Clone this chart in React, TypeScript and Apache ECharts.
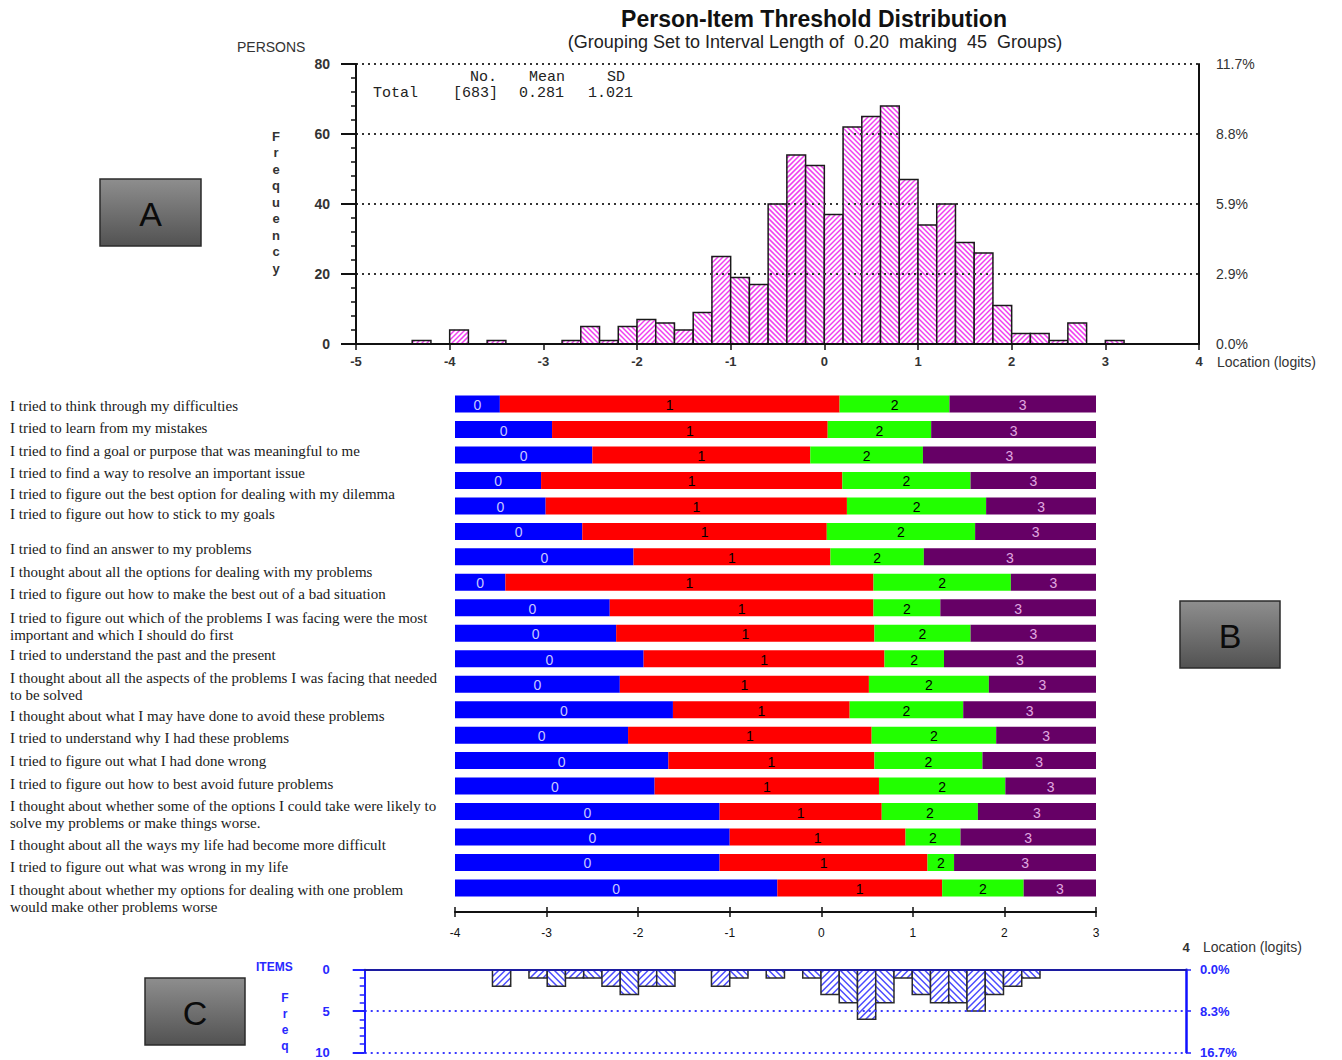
import React, { useEffect, useRef } from "react";
import * as echarts from "echarts";

// ---------- DATA ----------
const BIN_WIDTH = 0.2;
const HIST_MIN = -5;
const HIST_MAX = 4;
// 45 groups from -5 to 4, width 0.2
const PERSON_FREQ = [
  0, 0, 0, 1, 0, 4, 0, 1, 0, 0,
  0, 1, 5, 1, 5, 7, 6, 4, 9, 25,
  19, 17, 40, 54, 51, 37, 62, 65, 68, 47,
  34, 40, 29, 26, 11, 3, 3, 1, 6, 0,
  1, 0, 0, 0, 0,
];
const ITEM_FREQ = [
  0, 0, 0, 0, 0, 0, 0, 2, 0, 1,
  2, 1, 1, 2, 3, 2, 2, 0, 0, 2,
  1, 0, 1, 0, 1, 3, 4, 6, 4, 1,
  3, 4, 4, 5, 3, 2, 1, 0, 0, 0,
  0, 0, 0, 0, 0,
];
const PERSON_Y_TICKS = [0, 80, 20];
const ITEM_Y_TICKS = [0, 10, 5];
const STAT_HEADERS = ["No.", "Mean", "SD"];
const STAT_ROW = ["Total", "[683]", "0.281", "1.021"];

const ITEMS = [
  "I tried to think through my difficulties",
  "I tried to learn from my mistakes",
  "I tried to find a goal or purpose that was meaningful to me",
  "I tried to find a way to resolve an important issue",
  "I tried to figure out the best option for dealing with my dilemma",
  "I tried to figure out how to stick to my goals",
  "I tried to find an answer to my problems",
  "I thought about all the options for dealing with my problems",
  "I tried to figure out how to make the best out of a bad situation",
  "I tried to figure out which of the problems I was facing were the most\nimportant and which I should do first",
  "I tried to understand the past and the present",
  "I thought about all the aspects of the problems I was facing that needed\nto be solved",
  "I thought about what I may have done to avoid these problems",
  "I tried to understand why I had these problems",
  "I tried to figure out what I had done wrong",
  "I tried to figure out how to best avoid future problems",
  "I thought about whether some of the options I could take were likely to\nsolve my problems or make things worse.",
  "I thought about all the ways my life had become more difficult",
  "I tried to figure out what was wrong in my life",
  "I thought about whether my options for dealing with one problem\nwould make other problems worse",
];
const THRESHOLD_1 = [-3.51, -2.94, -2.5, -3.06, -3.01, -2.61, -2.05, -3.45, -2.31, -2.24, -1.94, -2.2, -1.62, -2.11, -1.67, -1.82, -1.11, -1.0, -1.11, -0.48];
const THRESHOLD_2 = [0.2, 0.07, -0.12, 0.23, 0.28, 0.06, 0.1, 0.57, 0.57, 0.58, 0.69, 0.52, 0.31, 0.55, 0.58, 0.63, 0.66, 0.92, 1.16, 1.32];
const THRESHOLD_3 = [1.4, 1.2, 1.11, 1.63, 1.8, 1.68, 1.12, 2.07, 1.3, 1.63, 1.34, 1.83, 1.55, 1.91, 1.76, 2.01, 1.71, 1.52, 1.45, 2.21];
const ITEM_AXIS = [-4, 3];
const CATEGORY_LABELS = ["0", "1", "2", "3"];

// ---------- LAYOUT / STYLE ----------
const SANS = "'Liberation Sans', Arial, sans-serif";
const SERIF = "'Liberation Serif', 'Times New Roman', serif";
const MONO = "'Liberation Mono', 'Courier New', monospace";
const LABEL_Y = [406, 428, 451, 473, 494, 514, 549, 572, 594, 618, 655, 678, 716, 738, 761, 784, 806, 845, 867, 890];
const SEG_FILL = ["#0000ff", "#ff0000", "#22ff00", "#660066"];
const SEG_TEXT = ["#c8c8ff", "#000000", "#000000", "#e0a8e0"];

function hatch(x0: number, y0: number, x1: number, y1: number, dir: string, step: number) {
  const out: number[][] = [];
  if (dir === "/") {
    const cs = Math.ceil((x0 + y0) / step) * step;
    for (let c = cs; c <= x1 + y1; c += step) {
      const ya = Math.max(y0, c - x1);
      const yb = Math.min(y1, c - x0);
      if (yb > ya) out.push([c - ya, ya, c - yb, yb]);
    }
  } else {
    const cs = Math.ceil((x0 - y1) / step) * step;
    for (let c = cs; c <= x1 - y0; c += step) {
      const ya = Math.max(y0, x0 - c);
      const yb = Math.min(y1, x1 - c);
      if (yb > ya) out.push([c + ya, ya, c + yb, yb]);
    }
  }
  return out;
}

function histRender(hatchColor: string, step: number, lw: number, stroke: string) {
  return (params: any, api: any) => {
    const start = api.value(0);
    const cnt = api.value(1);
    if (!cnt) return { type: "group", children: [] };
    const a = api.coord([start, 0]);
    const b = api.coord([start + BIN_WIDTH, cnt]);
    const x0 = Math.min(a[0], b[0]);
    const x1 = Math.max(a[0], b[0]);
    const y0 = Math.min(a[1], b[1]);
    const y1 = Math.max(a[1], b[1]);
    const dir = params.dataIndex % 2 === 1 ? "/" : "\\";
    const segs = hatch(x0, y0, x1, y1, dir, step);
    return {
      type: "group",
      children: [
        { type: "rect", shape: { x: x0, y: y0, width: x1 - x0, height: y1 - y0 }, style: { fill: "#ffffff" } },
        ...segs.map((s) => ({
          type: "line",
          shape: { x1: s[0], y1: s[1], x2: s[2], y2: s[3] },
          style: { stroke: hatchColor, lineWidth: lw },
        })),
        {
          type: "rect",
          shape: { x: x0, y: y0, width: x1 - x0, height: y1 - y0 },
          style: { fill: "none", stroke, lineWidth: 1.5 },
        },
      ],
    };
  };
}

function itemBarRender(params: any, api: any) {
  const row = api.value(0);
  const cuts = [ITEM_AXIS[0], api.value(1), api.value(2), api.value(3), ITEM_AXIS[1]];
  const h = 17;
  const children: any[] = [];
  for (let s = 0; s < 4; s++) {
    const a = api.coord([cuts[s], row]);
    const b = api.coord([cuts[s + 1], row]);
    children.push({
      type: "rect",
      shape: { x: a[0], y: a[1] - h / 2, width: b[0] - a[0], height: h },
      style: { fill: SEG_FILL[s] },
    });
  }
  for (let s = 0; s < 4; s++) {
    const a = api.coord([cuts[s], row]);
    const b = api.coord([cuts[s + 1], row]);
    children.push({
      type: "text",
      x: (a[0] + b[0]) / 2,
      y: a[1] + 1,
      style: {
        text: CATEGORY_LABELS[s],
        fill: SEG_TEXT[s],
        font: `14px ${SANS}`,
        align: "center",
        verticalAlign: "middle",
      },
    });
  }
  return { type: "group", children };
}

function txt(text: string, x: number, y: number, font: string, fill = "#222", align = "left", va = "middle", extra: any = {}) {
  return { type: "text", x, y, style: { text, font, fill, align, verticalAlign: va, ...extra } };
}

function box(letter: string, x: number, y: number, w: number, h: number) {
  return {
    type: "group",
    children: [
      {
        type: "rect",
        shape: { x, y, width: w, height: h },
        style: {
          fill: new echarts.graphic.LinearGradient(0, 0, 0, 1, [
            { offset: 0, color: "#8e8e8e" },
            { offset: 1, color: "#525252" },
          ]),
          stroke: "#2b2b2b",
          lineWidth: 1.5,
        },
      },
      txt(letter, x + w / 2, y + h / 2 + 1, `34px ${SANS}`, "#0b0b0b", "center"),
    ],
  };
}

function buildOption() {
  const personTotal = PERSON_FREQ.reduce((s, v) => s + v, 0);
  const itemTotal = ITEMS.length * 3;
  const personData = PERSON_FREQ.map((c, i) => [HIST_MIN + i * BIN_WIDTH, c]);
  const itemHistData = ITEM_FREQ.map((c, i) => [HIST_MIN + i * BIN_WIDTH, c]);
  const barData = ITEMS.map((_, i) => [i, THRESHOLD_1[i], THRESHOLD_2[i], THRESHOLD_3[i]]);

  const graphic: any[] = [
    txt("Person-Item Threshold Distribution", 814, 19, `bold 23px ${SANS}`, "#111", "center"),
    txt("(Grouping Set to Interval Length of  0.20  making  45  Groups)", 815, 42, `18px ${SANS}`, "#222", "center"),
    txt("PERSONS", 237, 47, `14px ${SANS}`, "#333"),
    txt("F\nr\ne\nq\nu\ne\nn\nc\ny", 276, 202, `bold 13px ${SANS}`, "#333", "center", "middle", { lineHeight: 16.5 }),
    txt(STAT_HEADERS[0], 470, 77, `15px ${MONO}`, "#222"),
    txt(STAT_HEADERS[1], 529, 77, `15px ${MONO}`, "#222"),
    txt(STAT_HEADERS[2], 607, 77, `15px ${MONO}`, "#222"),
    txt(STAT_ROW[0], 373, 93, `15px ${MONO}`, "#222"),
    txt(STAT_ROW[1], 453, 93, `15px ${MONO}`, "#222"),
    txt(STAT_ROW[2], 519, 93, `15px ${MONO}`, "#222"),
    txt(STAT_ROW[3], 588, 93, `15px ${MONO}`, "#222"),
    txt("Location (logits)", 1217, 362, `14px ${SANS}`, "#333"),
    txt("Location (logits)", 1203, 947, `14px ${SANS}`, "#333"),
    txt("ITEMS", 256, 967, `bold 12px ${SANS}`, "#2828ff"),
    txt("F\nr\ne\nq", 285, 1022, `bold 12px ${SANS}`, "#2828ff", "center", "middle", { lineHeight: 16 }),
    box("A", 100, 179, 101, 67),
    box("B", 1180, 601, 100, 67),
    box("C", 145, 978, 100, 67),
  ];
  ITEMS.forEach((label, i) => {
    graphic.push(txt(label, 10, LABEL_Y[i] - 8.5, `15px ${SERIF}`, "#1a1a1a", "left", "top", { lineHeight: 17 }));
  });

  return {
    animation: false,
    backgroundColor: "#ffffff",
    grid: [
      { left: 356, top: 64, width: 843, height: 280 },
      { left: 455, top: 391.3, width: 641, height: 509.4 },
      { left: 364.7, top: 969.7, width: 821.3, height: 82.6 },
    ],
    xAxis: [
      {
        gridIndex: 0,
        type: "value",
        min: HIST_MIN,
        max: HIST_MAX,
        interval: 1,
        z: 4,
        axisLine: { show: true, onZero: false, lineStyle: { color: "#111", width: 2 } },
        axisTick: { show: true, length: 6, lineStyle: { color: "#111", width: 1.5 } },
        axisLabel: { margin: 11, color: "#333", fontFamily: SANS, fontSize: 13, fontWeight: "bold" },
        splitLine: { show: false },
      },
      {
        gridIndex: 1,
        type: "value",
        position: "bottom",
        offset: 11.3,
        min: ITEM_AXIS[0],
        max: ITEM_AXIS[1],
        interval: 1,
        axisLine: { show: true, onZero: false, lineStyle: { color: "#111", width: 2 } },
        axisTick: { show: true, length: 5, lineStyle: { color: "#111", width: 1.5 } },
        axisLabel: { margin: 15, color: "#111", fontFamily: SANS, fontSize: 12 },
        splitLine: { show: false },
      },
      {
        gridIndex: 1,
        type: "value",
        position: "bottom",
        offset: 11.3,
        min: ITEM_AXIS[0],
        max: ITEM_AXIS[1],
        interval: 1,
        axisLine: { show: false, onZero: false },
        axisTick: { show: true, inside: true, length: 5, lineStyle: { color: "#111", width: 1.5 } },
        axisLabel: { show: false },
        splitLine: { show: false },
      },
      {
        gridIndex: 2,
        type: "value",
        position: "top",
        min: HIST_MIN,
        max: HIST_MAX,
        interval: 1,
        z: 4,
        axisLine: { show: true, onZero: false, lineStyle: { color: "#1c1ca0", width: 2 } },
        axisTick: { show: false },
        axisLabel: {
          margin: 16,
          color: "#333",
          fontFamily: SANS,
          fontSize: 13,
          fontWeight: "bold",
          formatter: (v: number) => (v === HIST_MAX ? String(v) : ""),
        },
        splitLine: { show: false },
      },
    ],
    yAxis: [
      {
        gridIndex: 0,
        type: "value",
        min: PERSON_Y_TICKS[0],
        max: PERSON_Y_TICKS[1],
        interval: PERSON_Y_TICKS[2],
        z: 3,
        axisLine: { show: true, onZero: false, lineStyle: { color: "#111", width: 2 } },
        axisTick: { show: true, length: 15, lineStyle: { color: "#111", width: 2 } },
        minorTick: { show: true, splitNumber: 5, length: 5, lineStyle: { color: "#111", width: 1.5 } },
        axisLabel: { margin: 26, color: "#333", fontFamily: SANS, fontSize: 14, fontWeight: "bold" },
        splitLine: { show: true, lineStyle: { color: "#333", width: 2, type: [2, 4] } },
      },
      {
        gridIndex: 0,
        type: "value",
        position: "right",
        min: PERSON_Y_TICKS[0],
        max: PERSON_Y_TICKS[1],
        interval: PERSON_Y_TICKS[2],
        z: 3,
        axisLine: { show: true, onZero: false, lineStyle: { color: "#111", width: 2 } },
        axisTick: { show: false },
        axisLabel: {
          margin: 17,
          color: "#333",
          fontFamily: SANS,
          fontSize: 14,
          formatter: (v: number) => ((v / personTotal) * 100).toFixed(1) + "%",
        },
        splitLine: { show: false },
      },
      {
        gridIndex: 1,
        type: "category",
        inverse: true,
        data: ITEMS,
        show: false,
      },
      {
        gridIndex: 2,
        type: "value",
        inverse: true,
        min: ITEM_Y_TICKS[0],
        max: ITEM_Y_TICKS[1],
        interval: ITEM_Y_TICKS[2],
        z: 3,
        axisLine: { show: true, onZero: false, lineStyle: { color: "#2020ff", width: 2 } },
        axisTick: { show: true, length: 12, lineStyle: { color: "#2020ff", width: 2 } },
        minorTick: { show: true, splitNumber: 5, length: 5, lineStyle: { color: "#2020ff", width: 1.5 } },
        axisLabel: { margin: 35, color: "#2828ff", fontFamily: SANS, fontSize: 13, fontWeight: "bold" },
        splitLine: { show: true, lineStyle: { color: "#3a3aff", width: 2, type: [2, 4] } },
      },
      {
        gridIndex: 2,
        type: "value",
        position: "right",
        inverse: true,
        min: ITEM_Y_TICKS[0],
        max: ITEM_Y_TICKS[1],
        interval: ITEM_Y_TICKS[2],
        z: 3,
        axisLine: { show: true, onZero: false, lineStyle: { color: "#1010ff", width: 2.5 } },
        axisTick: { show: true, length: 5, lineStyle: { color: "#2020ff", width: 1.5 } },
        axisLabel: {
          margin: 14,
          color: "#2828ff",
          fontFamily: SANS,
          fontSize: 13,
          fontWeight: "bold",
          formatter: (v: number) => ((v / itemTotal) * 100).toFixed(1) + "%",
        },
        splitLine: { show: false },
      },
    ],
    series: [
      {
        type: "custom",
        xAxisIndex: 0,
        yAxisIndex: 0,
        encode: { x: 0, y: 1 },
        data: personData,
        renderItem: histRender("#f040f0", 5, 1.5, "#1a1a1a"),
        clip: false,
        z: 2,
      },
      {
        type: "custom",
        xAxisIndex: 1,
        yAxisIndex: 2,
        encode: { x: [1, 2, 3], y: 0 },
        data: barData,
        renderItem: itemBarRender,
        clip: false,
      },
      {
        type: "custom",
        xAxisIndex: 3,
        yAxisIndex: 3,
        encode: { x: 0, y: 1 },
        data: itemHistData,
        renderItem: histRender("#4a4aff", 6.5, 1.5, "#2a2a2a"),
        clip: false,
        z: 2,
      },
    ],
    graphic,
  };
}

export default function App() {
  const ref = useRef<HTMLDivElement>(null);
  useEffect(() => {
    document.body.style.margin = "0";
    const chart = echarts.init(ref.current!, undefined, { renderer: "svg", width: 1342, height: 1060 });
    chart.setOption(buildOption() as any);
    return () => chart.dispose();
  }, []);
  return <div ref={ref} style={{ width: 1342, height: 1060, background: "#fff" }} />;
}
